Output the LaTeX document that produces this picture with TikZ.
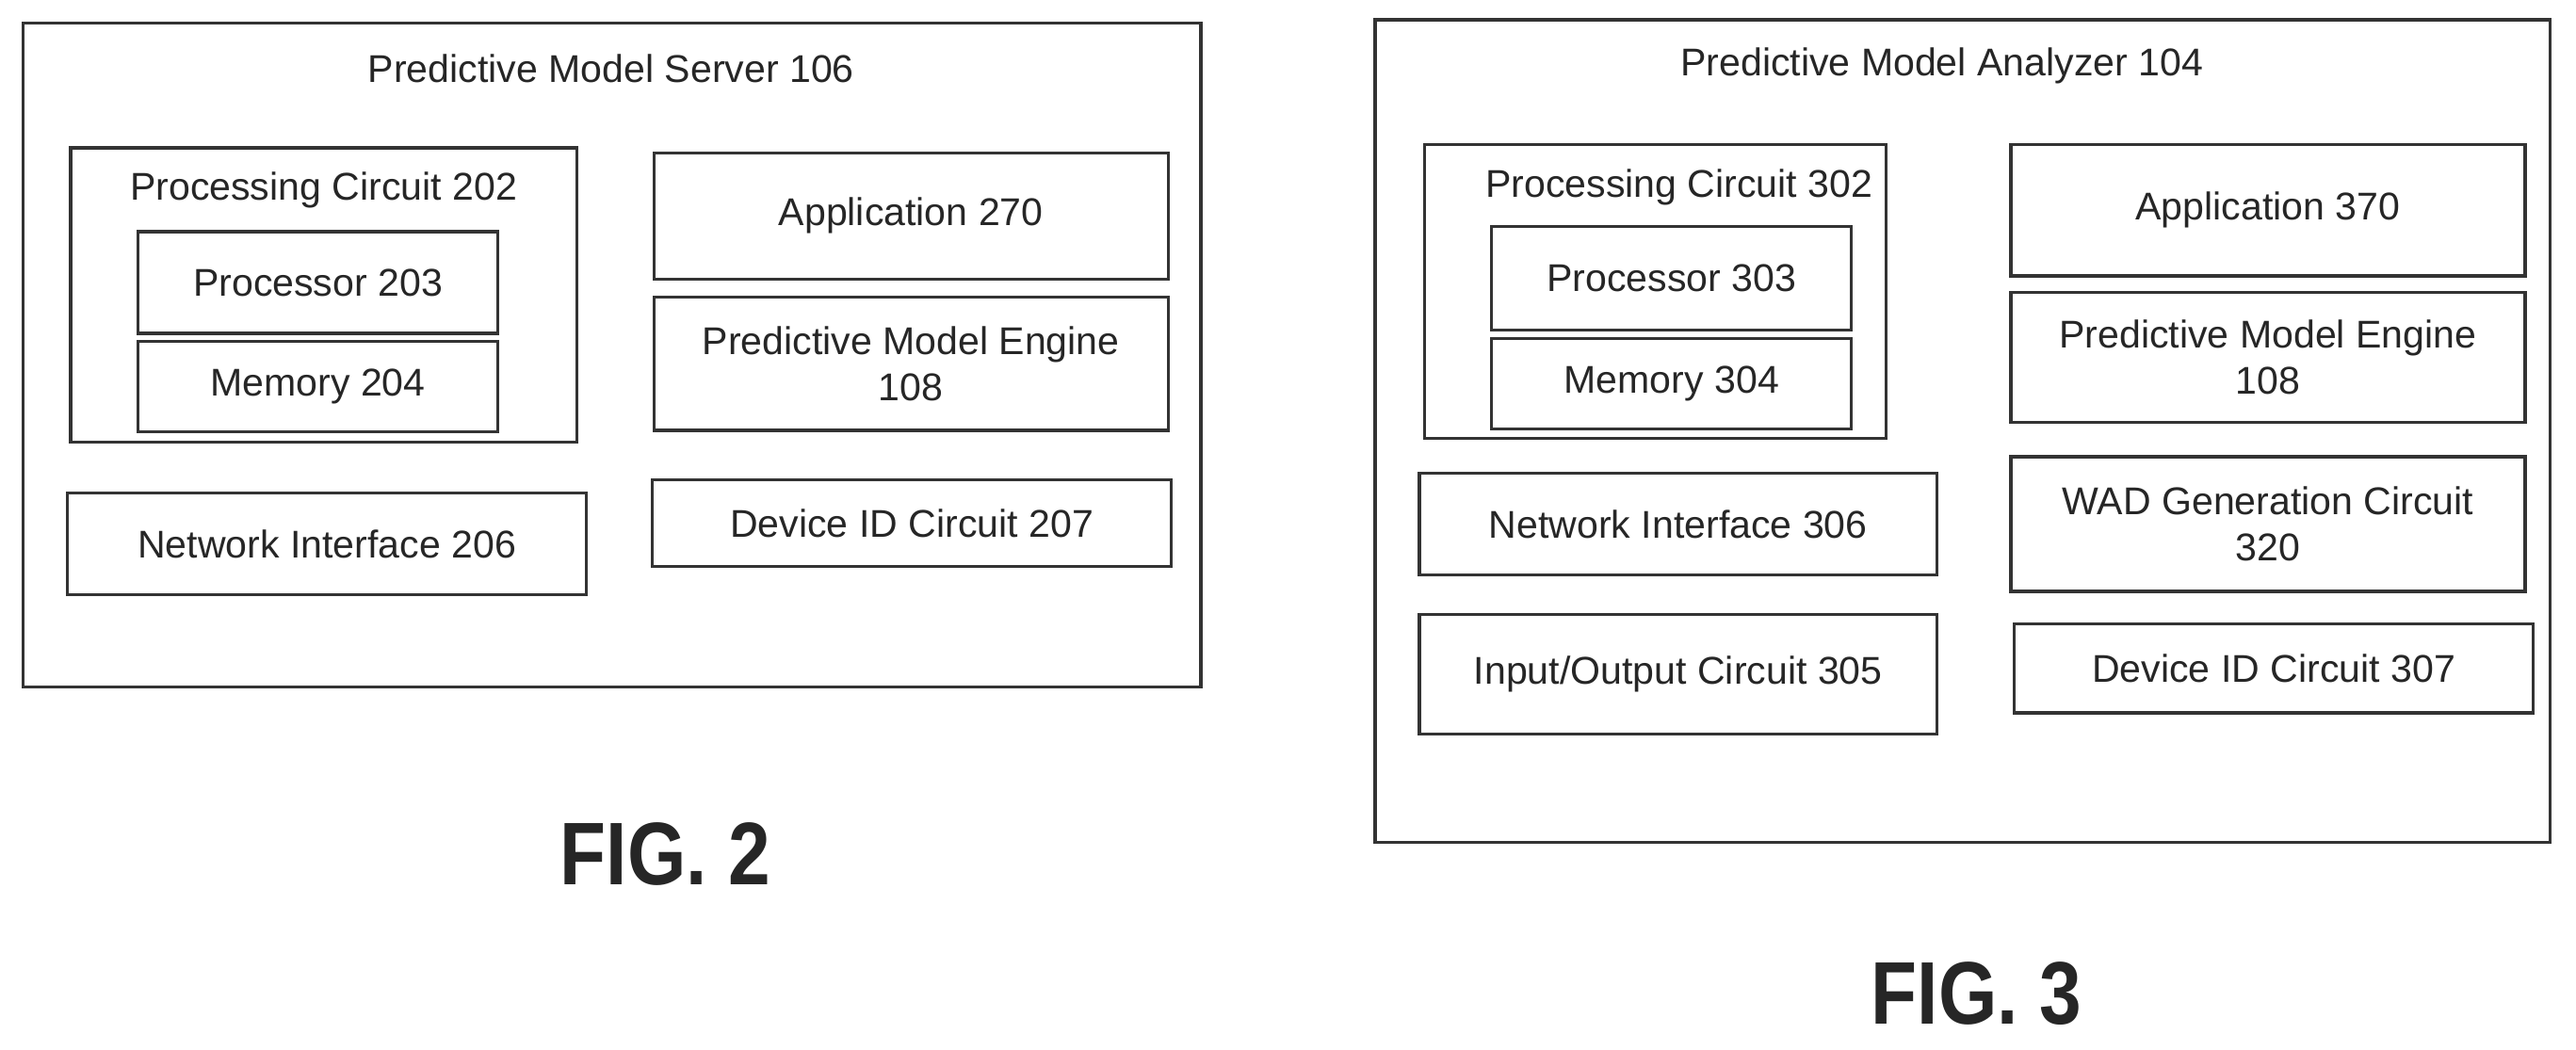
\documentclass[tikz,border=0pt]{standalone}
\usepackage{fontspec}
\setmainfont{Liberation Sans}
\begin{document}
\begin{tikzpicture}[x=0.05cm,y=-0.05cm,
  bx/.style={draw=black!80,line width=2.6pt},
  tx/.style={font=\fontsize{33.5}{40}\selectfont,align=center,text=black!85},
  fig/.style={font=\bfseries\fontsize{77}{84}\selectfont,xscale=0.85,text=black!85}]
\useasboundingbox (0,0) rectangle (1568,639);
% FIG 2
\draw[bx] (14,14) rectangle (731,418);
\node[tx] (t2) at (372,42) {Predictive Model Server 106};
\draw[bx] (43,90) rectangle (351,269);
\node[tx] (pc2) at (197,116) {Processing Circuit 202};
\draw[bx] (84,141) rectangle node[tx] (p203) {Processor 203} (303,203);
\draw[bx] (84,208) rectangle node[tx] (m204) {Memory 204} (303,263);
\draw[bx] (41,300) rectangle node[tx] (n206) {Network Interface 206} (357,362);
\draw[bx] (398,93) rectangle node[tx] (a270) {Application 270} (711,170);
\draw[bx] (398,181) rectangle node[tx] (e108a) {Predictive Model Engine\\108} (711,262);
\draw[bx] (397,292) rectangle node[tx] (d207) {Device ID Circuit 207} (713,345);
\node[fig] (f2) at (405,520) {FIG. 2};
% FIG 3
\draw[bx] (837,12) rectangle (1552,513);
\node[tx] (t3) at (1182,40) {Predictive Model Analyzer 104};
\draw[bx] (867,88) rectangle (1148,267);
\node[tx] (pc3) at (1022,114) {Processing Circuit 302};
\draw[bx] (908,138) rectangle node[tx] (p303) {Processor 303} (1127,201);
\draw[bx] (908,206) rectangle node[tx] (m304) {Memory 304} (1127,261);
\draw[bx] (864,288) rectangle node[tx] (n306) {Network Interface 306} (1179,350);
\draw[bx] (864,374) rectangle node[tx] (io305) {Input/Output Circuit 305} (1179,447);
\draw[bx] (1224,88) rectangle node[tx] (a370) {Application 370} (1537,168);
\draw[bx] (1224,178) rectangle node[tx] (e108b) {Predictive Model Engine\\108} (1537,257);
\draw[bx] (1224,278) rectangle node[tx] (w320) {WAD Generation Circuit\\320} (1537,360);
\draw[bx] (1226,380) rectangle node[tx] (d307) {Device ID Circuit 307} (1542,434);
\node[fig] (f3) at (1203,605) {FIG. 3};
\end{tikzpicture}
\end{document}
